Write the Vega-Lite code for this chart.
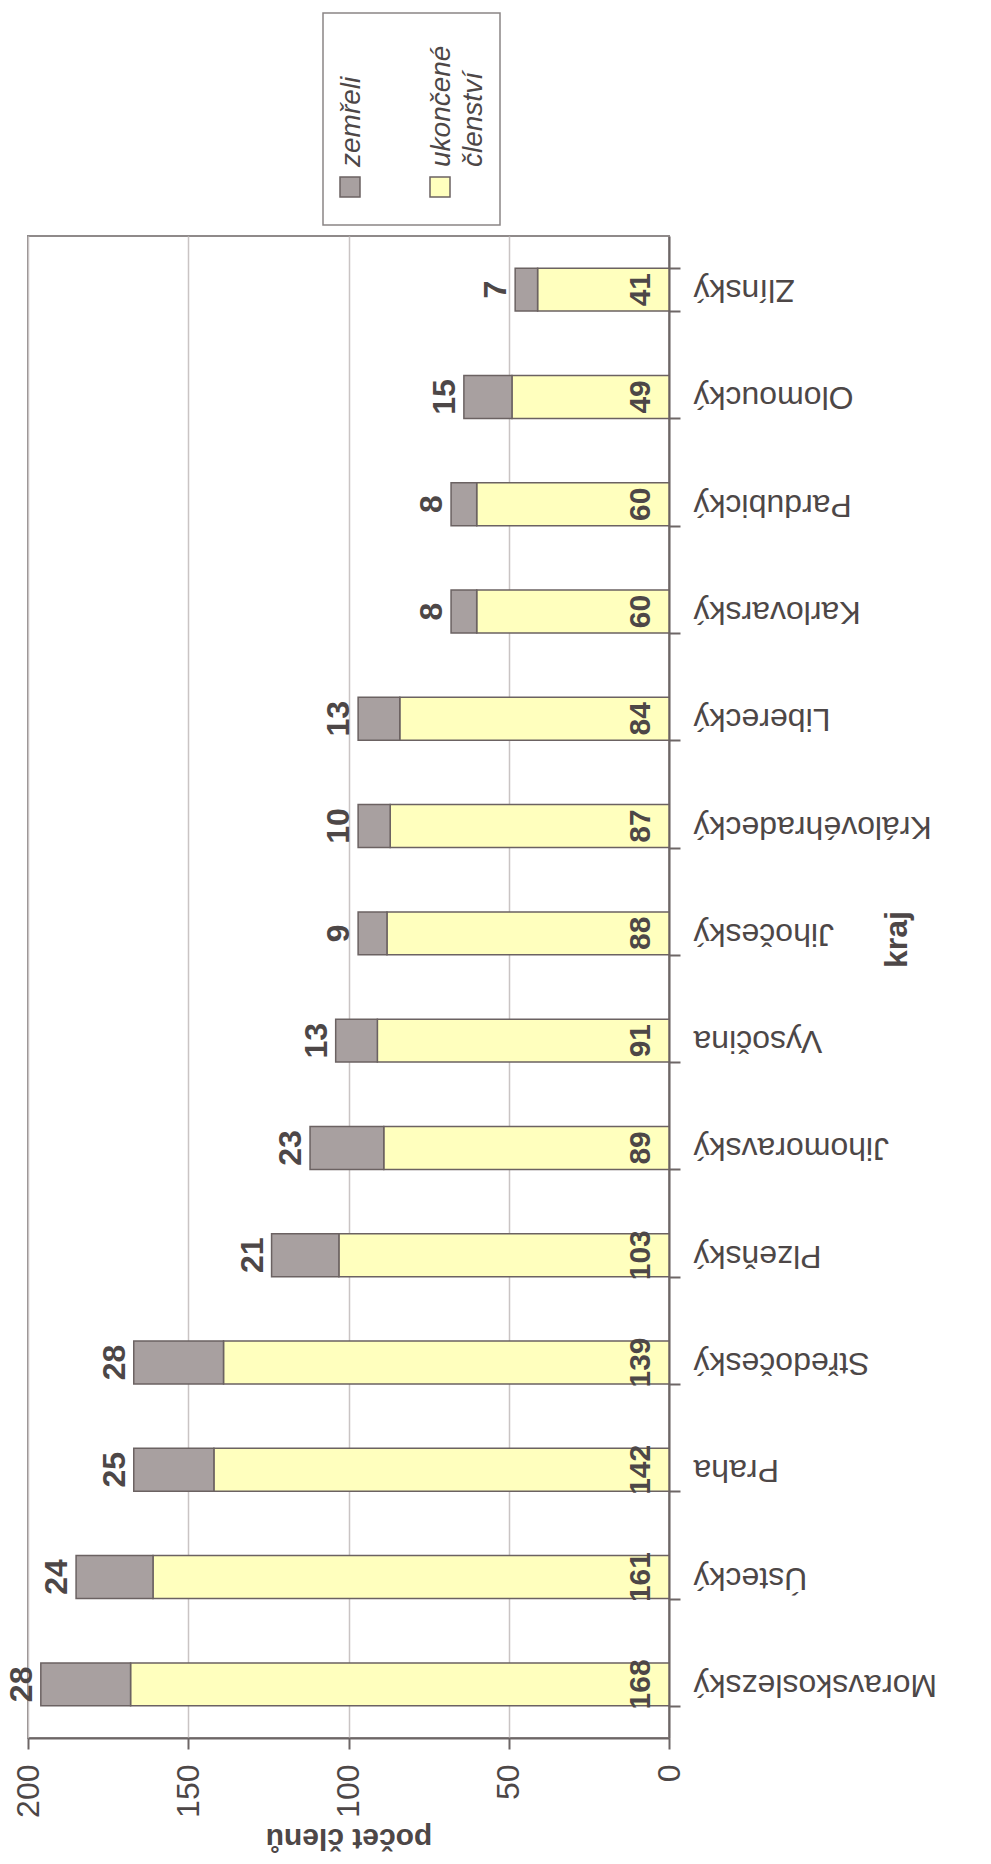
{
  "$schema": "https://vega.github.io/schema/vega-lite/v6.json",
  "autosize": {"type": "none"},
  "width": 641,
  "height": 1502,
  "padding": {"left": 28, "top": 236, "right": 322, "bottom": 126},
  "background": "white",
  "config": {
    "font": "Liberation Sans",
    "view": {"stroke": "#8f8a8a", "strokeWidth": 2}
  },
  "data": {
    "values": [
      {"kraj": "Moravskoslezský", "typ": "ukončené členství", "pocet": 168, "poradi": 1},
      {"kraj": "Moravskoslezský", "typ": "zemřeli", "pocet": 28, "poradi": 2},
      {"kraj": "Ústecký", "typ": "ukončené členství", "pocet": 161, "poradi": 1},
      {"kraj": "Ústecký", "typ": "zemřeli", "pocet": 24, "poradi": 2},
      {"kraj": "Praha", "typ": "ukončené členství", "pocet": 142, "poradi": 1},
      {"kraj": "Praha", "typ": "zemřeli", "pocet": 25, "poradi": 2},
      {"kraj": "Středočeský", "typ": "ukončené členství", "pocet": 139, "poradi": 1},
      {"kraj": "Středočeský", "typ": "zemřeli", "pocet": 28, "poradi": 2},
      {"kraj": "Plzeňský", "typ": "ukončené členství", "pocet": 103, "poradi": 1},
      {"kraj": "Plzeňský", "typ": "zemřeli", "pocet": 21, "poradi": 2},
      {"kraj": "Jihomoravský", "typ": "ukončené členství", "pocet": 89, "poradi": 1},
      {"kraj": "Jihomoravský", "typ": "zemřeli", "pocet": 23, "poradi": 2},
      {"kraj": "Vysočina", "typ": "ukončené členství", "pocet": 91, "poradi": 1},
      {"kraj": "Vysočina", "typ": "zemřeli", "pocet": 13, "poradi": 2},
      {"kraj": "Jihočeský", "typ": "ukončené členství", "pocet": 88, "poradi": 1},
      {"kraj": "Jihočeský", "typ": "zemřeli", "pocet": 9, "poradi": 2},
      {"kraj": "Královéhradecký", "typ": "ukončené členství", "pocet": 87, "poradi": 1},
      {"kraj": "Královéhradecký", "typ": "zemřeli", "pocet": 10, "poradi": 2},
      {"kraj": "Liberecký", "typ": "ukončené členství", "pocet": 84, "poradi": 1},
      {"kraj": "Liberecký", "typ": "zemřeli", "pocet": 13, "poradi": 2},
      {"kraj": "Karlovarský", "typ": "ukončené členství", "pocet": 60, "poradi": 1},
      {"kraj": "Karlovarský", "typ": "zemřeli", "pocet": 8, "poradi": 2},
      {"kraj": "Pardubický", "typ": "ukončené členství", "pocet": 60, "poradi": 1},
      {"kraj": "Pardubický", "typ": "zemřeli", "pocet": 8, "poradi": 2},
      {"kraj": "Olomoucký", "typ": "ukončené členství", "pocet": 49, "poradi": 1},
      {"kraj": "Olomoucký", "typ": "zemřeli", "pocet": 15, "poradi": 2},
      {"kraj": "Zlínský", "typ": "ukončené členství", "pocet": 41, "poradi": 1},
      {"kraj": "Zlínský", "typ": "zemřeli", "pocet": 7, "poradi": 2}
    ]
  },
  "encoding": {
    "y": {
      "field": "kraj",
      "type": "nominal",
      "sort": ["Zlínský", "Olomoucký", "Pardubický", "Karlovarský", "Liberecký", "Královéhradecký", "Jihočeský", "Vysočina", "Jihomoravský", "Plzeňský", "Středočeský", "Praha", "Ústecký", "Moravskoslezský"],
      "scale": {"paddingInner": 0.6, "paddingOuter": 0.3},
      "axis": {
        "orient": "right",
        "title": "kraj",
        "labelAngle": 180,
        "labelAlign": "right",
        "labelBaseline": "middle",
        "labelFontSize": 32,
        "labelColor": "#4d4747",
        "labelPadding": 13,
        "labelLimit": 500,
        "tickSize": 11,
        "tickBand": "extent",
        "tickColor": "#6d6666",
        "tickWidth": 2,
        "domainColor": "#6d6666",
        "domainWidth": 2,
        "titleAngle": 270,
        "titleBaseline": "top",
        "titleFontSize": 32,
        "titleFontWeight": "bold",
        "titleColor": "#4d4747",
        "titlePadding": 12,
        "titleY": 703
      }
    }
  },
  "layer": [
    {
      "mark": {"type": "bar", "stroke": "#6b6262", "strokeWidth": 1.5},
      "encoding": {
        "x": {
          "field": "pocet",
          "type": "quantitative",
          "stack": "zero",
          "scale": {"domain": [0, 200], "reverse": true, "nice": false},
          "axis": {
            "orient": "bottom",
            "values": [0, 50, 100, 150, 200],
            "title": "počet členů",
            "labelAngle": 270,
            "labelAlign": "right",
            "labelBaseline": "middle",
            "labelFlush": false,
            "labelFontSize": 32,
            "labelColor": "#4d4747",
            "labelPadding": 15,
            "tickSize": 11,
            "tickColor": "#6d6666",
            "tickWidth": 2,
            "grid": true,
            "gridColor": "#c9c4c4",
            "gridWidth": 1.5,
            "domainColor": "#6d6666",
            "domainWidth": 2,
            "titleAngle": 180,
            "titleBaseline": "bottom",
            "titleFontSize": 30,
            "titleFontWeight": "bold",
            "titleColor": "#4d4747",
            "titlePadding": 5
          }
        },
        "order": {"field": "poradi", "type": "quantitative"},
        "color": {
          "field": "typ",
          "type": "nominal",
          "scale": {"domain": ["zemřeli", "ukončené členství"], "range": ["#a8a0a0", "#ffffbe"]},
          "legend": {
            "orient": "none",
            "legendX": 295,
            "legendY": -223,
            "direction": "horizontal",
            "title": "\u00a0",
            "titleOrient": "bottom",
            "titleFontSize": 8,
            "titlePadding": 5,
            "padding": 12,
            "strokeColor": "#8a8585",
            "fillColor": "white",
            "symbolType": "square",
            "symbolSize": 400,
            "symbolStrokeColor": "#6b6262",
            "symbolStrokeWidth": 1.5,
            "labelFontSize": 28,
            "labelFontStyle": "italic",
            "labelColor": "#4d4747",
            "labelLimit": 500,
            "columnPadding": 59,
            "encode": {
              "legend": {"update": {"strokeWidth": {"value": 1.5}}},
              "symbols": {"update": {"x": {"value": 15}, "y": {"value": 162}}},
              "labels": {
                "update": {
                  "text": {"signal": "datum.label === 'ukončené členství' ? ['ukončené', 'členství'] : datum.label"},
                  "x": {"value": 25},
                  "y": {"value": 142},
                  "angle": {"value": 270},
                  "align": {"value": "left"},
                  "baseline": {"value": "alphabetic"},
                  "lineHeight": {"value": 32}
                }
              }
            }
          }
        }
      }
    },
    {
      "transform": [{"filter": "datum.typ === 'ukončené členství'"}],
      "mark": {"type": "text", "angle": 270, "align": "center", "baseline": "alphabetic", "dy": -19, "fontSize": 30, "fontWeight": "bold", "color": "#4d4747"},
      "encoding": {
        "x": {"datum": 0, "type": "quantitative"},
        "text": {"field": "pocet", "type": "quantitative"}
      }
    },
    {
      "transform": [
        {"stack": "pocet", "groupby": ["kraj"], "sort": [{"field": "poradi"}], "as": ["x0", "x1"]},
        {"filter": "datum.typ === 'zemřeli'"}
      ],
      "mark": {"type": "text", "angle": 270, "align": "center", "baseline": "alphabetic", "dy": -9, "fontSize": 32, "fontWeight": "bold", "color": "#4d4747"},
      "encoding": {
        "x": {"field": "x1", "type": "quantitative"},
        "text": {"field": "pocet", "type": "quantitative"}
      }
    }
  ]
}
